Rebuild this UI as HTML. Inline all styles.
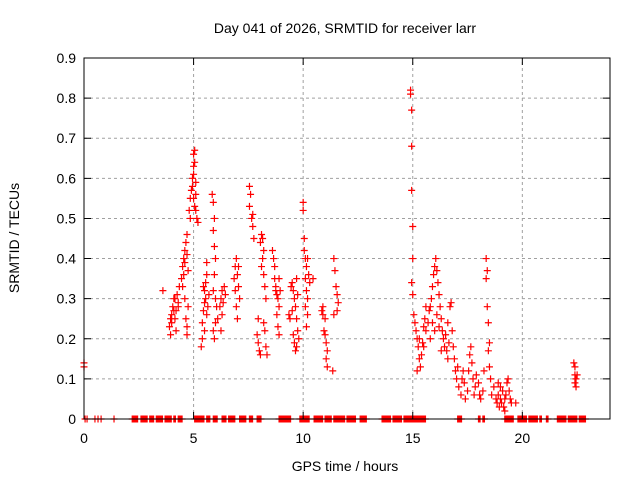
<!DOCTYPE html>
<html><head><meta charset="utf-8"><style>
html,body{margin:0;padding:0;background:#fff}
svg{display:block;font-family:"Liberation Sans",sans-serif}
</style></head><body>
<svg id="chart" width="640" height="480">
<rect width="640" height="480" fill="#fff"/>
<text x="345" y="33" font-size="14" text-anchor="middle">Day 041 of 2026, SRMTID for receiver larr</text>
<text x="19" y="238" font-size="14" text-anchor="middle" transform="rotate(-90 19 238)">SRMTID / TECUs</text>
<text x="345" y="471" font-size="14" text-anchor="middle">GPS time / hours</text>
<g id="grid"></g>
<g id="marks"></g>
<rect x="84" y="58" width="526" height="361" fill="none" stroke="#000" stroke-width="1"/>
<g id="ticks"></g>
</svg>
<script>
const xTicks=[0,5,10,15,20];
const yTicks=[0,0.1,0.2,0.3,0.4,0.5,0.6,0.7,0.8,0.9];
const yTickLabels=["0","0.1","0.2","0.3","0.4","0.5","0.6","0.7","0.8","0.9"];
const hours=[0,0,3.6,
3.9,3.95,4.0,4.05,4.1,4.15,4.2,4.25,4.3,4.35,4.0,4.1,4.2,4.3,4.15,3.95,
4.45,4.5,4.55,4.6,4.65,4.7,4.55,4.6,4.5,4.7,4.75,4.6,4.65,4.7,4.75,4.7,4.8,4.85,4.9,4.85,
4.95,5.0,5.0,5.05,5.05,5.0,4.95,5.0,5.05,5.1,5.1,5.15,5.1,5.2,
5.35,5.4,5.4,5.45,5.5,5.5,5.55,5.6,5.55,5.6,5.65,5.7,5.5,5.45,5.6,
5.85,5.9,5.95,5.9,5.95,6.0,5.95,5.9,6.0,6.05,6.1,5.9,5.95,6.0,
6.2,6.25,6.3,6.35,6.4,6.45,6.3,6.25,
6.85,6.9,6.95,7.0,7.05,7.1,6.95,7.0,7.05,6.9,
7.55,7.6,7.55,7.65,7.7,7.75,7.7,
7.9,7.95,8.0,8.05,7.95,8.05,8.1,8.15,8.2,8.15,8.1,8.2,8.25,8.3,8.2,8.25,8.3,8.35,
8.6,8.65,8.7,8.7,8.75,8.8,8.85,8.9,8.8,8.85,8.9,8.75,8.9,8.95,
9.35,9.4,9.45,9.5,9.55,9.6,9.65,9.7,9.75,9.6,9.65,9.7,9.8,9.5,9.55,9.7,9.75,
10.0,10.0,10.05,10.05,10.1,10.15,10.2,10.1,10.15,10.2,10.1,10.2,10.15,10.25,10.3,10.45,
10.85,10.9,10.95,11.0,11.05,11.1,11.05,11.1,11.0,10.9,
11.35,11.4,11.45,11.5,11.55,11.6,11.55,11.4,
14.9,14.9,14.95,14.95,14.95,15.0,15.0,14.95,15.0,
15.05,15.1,15.15,15.2,15.25,15.3,15.35,15.4,15.45,15.5,15.55,15.6,15.7,15.75,15.8,15.85,15.9,15.95,16.0,16.05,16.1,16.15,16.2,16.25,16.3,16.35,16.4,16.45,16.5,16.55,16.6,16.65,16.7,16.75,16.8,16.85,16.9,16.95,17.0,17.05,15.3,15.5,15.2,15.6,15.9,16.0,16.1,16.2,15.8,16.3,16.6,
17.1,17.2,17.25,17.3,17.35,17.4,17.5,17.55,17.6,17.65,17.7,17.75,17.8,17.85,17.9,18.0,18.05,18.1,18.2,18.25,
18.35,18.4,18.35,18.4,18.45,18.5,18.45,18.5,18.55,18.6,
18.7,18.8,18.85,18.9,18.95,19.0,19.05,19.1,19.15,19.2,19.25,19.3,19.35,19.4,19.45,19.5,19.7,19.0,18.9,19.2,
22.35,22.4,22.4,22.45,22.4,22.45,22.5];
const srmtid=[0.14,0.13,0.32,
0.23,0.21,0.26,0.28,0.30,0.25,0.27,0.31,0.29,0.33,0.24,0.27,0.22,0.28,0.30,0.25,
0.35,0.38,0.40,0.42,0.44,0.46,0.36,0.39,0.33,0.41,0.37,0.30,0.25,0.23,0.28,0.21,0.52,0.55,0.57,0.50,
0.60,0.63,0.66,0.67,0.64,0.61,0.58,0.55,0.53,0.52,0.56,0.50,0.59,0.49,
0.18,0.20,0.24,0.27,0.29,0.32,0.34,0.36,0.30,0.26,0.28,0.31,0.22,0.33,0.39,
0.56,0.54,0.50,0.47,0.43,0.40,0.36,0.32,0.30,0.28,0.25,0.22,0.20,0.24,
0.28,0.30,0.32,0.29,0.33,0.31,0.26,0.22,
0.35,0.38,0.40,0.36,0.33,0.30,0.28,0.25,0.38,0.32,
0.58,0.56,0.53,0.50,0.48,0.45,0.51,
0.21,0.19,0.17,0.16,0.25,0.44,0.46,0.45,0.42,0.40,0.38,0.36,0.33,0.30,0.24,0.22,0.18,0.16,
0.42,0.40,0.38,0.35,0.32,0.31,0.30,0.28,0.26,0.23,0.21,0.33,0.35,0.32,
0.26,0.25,0.33,0.34,0.32,0.30,0.28,0.25,0.22,0.19,0.17,0.18,0.20,0.27,0.21,0.35,0.31,
0.54,0.52,0.45,0.42,0.40,0.38,0.40,0.35,0.32,0.30,0.28,0.26,0.23,0.36,0.34,0.35,
0.27,0.26,0.22,0.21,0.19,0.17,0.15,0.13,0.25,0.28,
0.12,0.40,0.37,0.33,0.31,0.29,0.27,0.26,
0.81,0.82,0.77,0.68,0.57,0.48,0.40,0.34,0.31,
0.26,0.24,0.22,0.20,0.18,0.15,0.13,0.16,0.19,0.23,0.25,0.22,0.24,0.27,0.28,0.30,0.33,0.36,0.38,0.40,0.37,0.34,0.31,0.28,0.25,0.22,0.20,0.18,0.21,0.17,0.15,0.19,0.28,0.29,0.22,0.18,0.15,0.12,0.10,0.13,0.20,0.18,0.12,0.28,0.24,0.22,0.26,0.23,0.20,0.17,0.24,
0.08,0.06,0.10,0.12,0.09,0.05,0.07,0.12,0.16,0.18,0.14,0.10,0.06,0.08,0.11,0.09,0.06,0.05,0.07,0.12,
0.40,0.37,0.35,0.28,0.24,0.19,0.17,0.13,0.10,0.06,
0.08,0.05,0.04,0.06,0.03,0.05,0.04,0.07,0.03,0.05,0.06,0.09,0.10,0.07,0.05,0.04,0.04,0.08,0.09,0.02,
0.14,0.13,0.11,0.10,0.09,0.08,0.11];
const zeroRunStart=[0.05,0.14,0.5,0.64,0.78,1.37,2.2,2.6,3.0,3.3,3.7,4.1,4.3,5.05,5.6,5.9,6.3,6.6,7.1,7.55,7.9,8.9,9.85,10.5,11.0,11.4,12.0,12.6,13.6,14.1,14.6,17.05,18.0,18.2,19.2,19.8,20.3,20.8,21.1,21.6,22.1,22.6];
const zeroRunEnd=[0.05,0.14,0.5,0.64,0.78,1.37,2.45,2.9,3.2,3.6,4.0,4.2,4.5,5.5,5.75,6.1,6.5,6.9,7.4,7.7,8.1,9.45,10.3,10.9,11.3,11.9,12.4,12.9,14.0,14.5,15.6,17.25,18.1,18.3,19.6,20.2,20.7,20.9,21.2,22.0,22.5,22.9];
const NS='http://www.w3.org/2000/svg';
const X0=84,X1=610,Y0=419,Y1=58,XMAX=24,YMAX=0.9;
function xs(h){return X0+(X1-X0)*h/XMAX;}
function ys(v){return Y0-(Y0-Y1)*v/YMAX;}
const grid=document.getElementById('grid'),ticks=document.getElementById('ticks'),marks=document.getElementById('marks');
function mk(tag,attrs,parent){const e=document.createElementNS(NS,tag);for(const k in attrs)e.setAttribute(k,attrs[k]);parent.appendChild(e);return e;}
yTicks.forEach((v,i)=>{const y=ys(v);
 if(i>0&&i<yTicks.length-1){const g=mk('line',{x1:X0,x2:X1,y1:y,y2:y,stroke:'#a0a0a0','stroke-dasharray':'3,3'},grid);
 
 }
 const t=mk('path',{d:`M${X0} ${y}h7M${X1} ${y}h-7`,stroke:'#000'},ticks);
 
 
 const l=mk('text',{x:X0-8,y:y+5,'font-size':'14','text-anchor':'end'},ticks);l.textContent=yTickLabels[i];
 
 
});
xTicks.forEach((h,i)=>{const x=xs(h);
 if(i>0){const g=mk('line',{x1:x,x2:x,y1:Y0,y2:Y1,stroke:'#a0a0a0','stroke-dasharray':'3,3'},grid);
 
 }
 const t=mk('path',{d:`M${x} ${Y0}v-7M${x} ${Y1}v7`,stroke:'#000'},ticks);
 
 
 const l=mk('text',{x:x,y:Y0+24,'font-size':'14','text-anchor':'middle'},ticks);l.textContent=String(h);
 
 
});
let d='';
hours.forEach((h,i)=>{const x=xs(h),y=ys(srmtid[i]);d+=`M${x-3.5} ${y}h7M${x} ${y-3.5}v7`;});
zeroRunStart.forEach((s,i)=>{for(let h=s;h<=zeroRunEnd[i]+1e-6;h+=0.035){const x=xs(h);d+=`M${x} ${Y0-3.5}v7M${x-3.5} ${Y0}h7`;}});
const p=mk('path',{d:d,stroke:'#ff0000','stroke-width':'1.2',fill:'none'},marks);


</script>
</body></html>
